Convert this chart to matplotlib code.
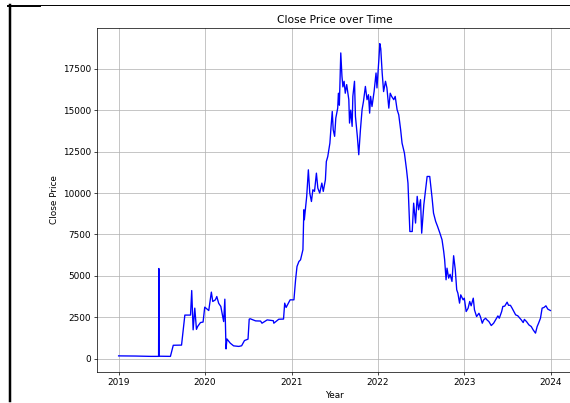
import matplotlib
matplotlib.use("Agg")
import matplotlib.pyplot as plt
import matplotlib.dates as mdates
from matplotlib.lines import Line2D
import pandas as pd

# daily close (key turning points)
dates = [
    "2019-01-01", "2019-03-13", "2019-05-16", "2019-06-19", "2019-06-20", "2019-06-21",
    "2019-08-08", "2019-08-20", "2019-09-24", "2019-10-08", "2019-11-01", "2019-11-06",
    "2019-11-12", "2019-11-19", "2019-11-26", "2019-12-01", "2019-12-13", "2019-12-24",
    "2019-12-31", "2020-01-17", "2020-01-28", "2020-02-03", "2020-02-14", "2020-02-20",
    "2020-02-28", "2020-03-08", "2020-03-20", "2020-03-25", "2020-03-30", "2020-04-03",
    "2020-04-17", "2020-05-01", "2020-05-23", "2020-06-04", "2020-06-16", "2020-07-01",
    "2020-07-06", "2020-07-10", "2020-08-02", "2020-08-23", "2020-08-29", "2020-09-20",
    "2020-10-16", "2020-10-18", "2020-11-08", "2020-11-28", "2020-12-03", "2020-12-09",
    "2020-12-26", "2021-01-11", "2021-01-18", "2021-01-24", "2021-02-01", "2021-02-08",
    "2021-02-18", "2021-02-22", "2021-02-24", "2021-03-06", "2021-03-13", "2021-03-19",
    "2021-03-26", "2021-04-01", "2021-04-08", "2021-04-16", "2021-04-22", "2021-04-30",
    "2021-05-09", "2021-05-15", "2021-05-24", "2021-05-28", "2021-06-03", "2021-06-12",
    "2021-06-17", "2021-06-22", "2021-06-26", "2021-07-02", "2021-07-07", "2021-07-15",
    "2021-07-18", "2021-07-22", "2021-07-28", "2021-08-02", "2021-08-06", "2021-08-11",
    "2021-08-16", "2021-08-22", "2021-08-31", "2021-09-03", "2021-09-08", "2021-09-14",
    "2021-09-17", "2021-09-24", "2021-09-28", "2021-10-06", "2021-10-12", "2021-10-19",
    "2021-10-26", "2021-11-01", "2021-11-09", "2021-11-16", "2021-11-22", "2021-11-27",
    "2021-12-01", "2021-12-07", "2021-12-16", "2021-12-24", "2021-12-28", "2022-01-05",
    "2022-01-09", "2022-01-13", "2022-01-19", "2022-01-25", "2022-02-02", "2022-02-08",
    "2022-02-16", "2022-02-22", "2022-02-28", "2022-03-09", "2022-03-15", "2022-03-23",
    "2022-03-30", "2022-04-07", "2022-04-13", "2022-04-23", "2022-05-02", "2022-05-08",
    "2022-05-16", "2022-05-26", "2022-06-01", "2022-06-09", "2022-06-16", "2022-06-22",
    "2022-06-30", "2022-07-05", "2022-07-14", "2022-07-20", "2022-07-28", "2022-08-08",
    "2022-08-18", "2022-08-24", "2022-09-02", "2022-09-10", "2022-09-20", "2022-09-29",
    "2022-10-06", "2022-10-10", "2022-10-16", "2022-10-20", "2022-10-27", "2022-11-02",
    "2022-11-10", "2022-11-17", "2022-11-24", "2022-11-30", "2022-12-05", "2022-12-12",
    "2022-12-17", "2022-12-27", "2023-01-01", "2023-01-09", "2023-01-17", "2023-01-24",
    "2023-01-30", "2023-02-08", "2023-02-13", "2023-02-22", "2023-03-04", "2023-03-10",
    "2023-03-18", "2023-03-24", "2023-04-01", "2023-04-07", "2023-04-15", "2023-04-25",
    "2023-05-05", "2023-05-13", "2023-05-23", "2023-05-29", "2023-06-08", "2023-06-13",
    "2023-06-21", "2023-07-01", "2023-07-07", "2023-07-15", "2023-07-22", "2023-07-28",
    "2023-08-06", "2023-08-15", "2023-08-24", "2023-08-30", "2023-09-07", "2023-09-12",
    "2023-09-21", "2023-10-01", "2023-10-11", "2023-10-19", "2023-10-29", "2023-11-05",
    "2023-11-11", "2023-11-19", "2023-11-26", "2023-12-04", "2023-12-12", "2023-12-20",
    "2023-12-31",
]
close = [
    180, 170, 150, 150, 5450, 160,
    150, 820, 830, 2640, 2640, 4120,
    1750, 3060, 1780, 1950, 2190, 2220,
    3120, 2915, 4025, 3460, 3560, 3760,
    3350, 3160, 2250, 3600, 600, 1200,
    945, 785, 750, 790, 1105, 1190,
    2395, 2420, 2290, 2280, 2150, 2350,
    2300, 2150, 2390, 2400, 3360, 3100,
    3560, 3560, 4770, 5570, 5870, 5975,
    6580, 8990, 8390, 9800, 11400, 10000,
    9490, 10200, 10100, 11200, 10300, 10000,
    10600, 10100, 10800, 11900, 12200, 13010,
    14020, 14920, 13820, 13420, 14520, 15120,
    16020, 15300, 18450, 17040, 16400, 16740,
    16020, 16540, 15630, 14220, 15000, 14020,
    15830, 16740, 14620, 13420, 12310, 13800,
    15030, 15530, 16430, 15630, 15930, 14820,
    15830, 15220, 16140, 17240, 16340, 18050,
    19010, 18700, 17240, 16120, 16740, 16340,
    15120, 16020, 15830, 15630, 15830, 15030,
    14720, 13820, 13010, 12410, 11400, 10600,
    7680, 7680, 9390, 8190, 9800, 8990,
    9600, 7580, 9290, 10000, 11000, 11000,
    9690, 8790, 8290, 7990, 7580, 7180,
    6480, 5975, 4770, 5470, 4870, 5100,
    4670, 6220, 5370, 4165, 3960, 3360,
    3860, 3560, 3660, 2855, 3050, 3460,
    3200, 3660, 2960, 2550, 2750, 2550,
    2150, 2350, 2450, 2350, 2250, 2010,
    2150, 2350, 2590, 2450, 2855, 3160,
    3180, 3420, 3230, 3230, 3060, 2900,
    2655, 2600, 2450, 2350, 2190, 2380,
    2250, 2050, 1950, 1750, 1550, 1950,
    2150, 2450, 3060, 3100, 3200, 3000,
    2915,
]

df = pd.DataFrame({"Date": pd.to_datetime(dates), "Close": close})

fig = plt.figure(figsize=(5.7 / 0.64, 4.03 / 0.64), dpi=64)
ax = fig.add_axes([0.1702, 0.0769, 0.8333, 0.8536])
ax.plot(df["Date"], df["Close"], color="blue", linewidth=1.5)
ax.set_title("Close Price over Time")
ax.set_xlabel("Year")
ax.set_ylabel("Close Price")
ax.xaxis.set_major_locator(mdates.YearLocator())
ax.xaxis.set_major_formatter(mdates.DateFormatter("%Y"))
ax.grid(True)
# the reference is cropped just inside the right edge of the axes
ax.spines["right"].set_visible(False)

# screenshot frame lines along the top and left edges
fig.add_artist(Line2D([9.5 / 570, 9.5 / 570], [1 - 5 / 403, 1 - 401 / 403],
                      transform=fig.transFigure, color="black", linewidth=2.8))
fig.add_artist(Line2D([8 / 570, 40 / 570], [1 - 5.5 / 403, 1 - 5.5 / 403],
                      transform=fig.transFigure, color="black", linewidth=2.2))
fig.add_artist(Line2D([40 / 570, 1], [1 - 5 / 403, 1 - 5 / 403],
                      transform=fig.transFigure, color="black", linewidth=1.1))

fig.savefig("out.png", dpi=64)
